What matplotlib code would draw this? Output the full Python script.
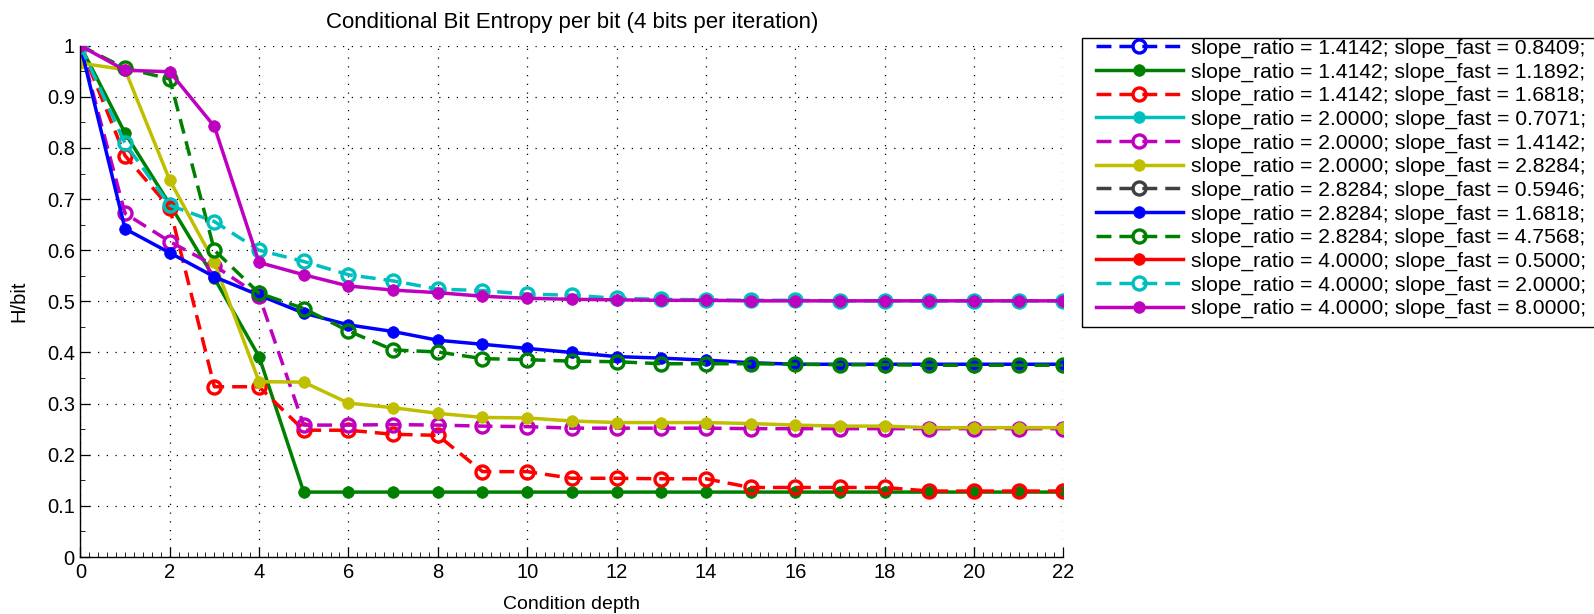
import numpy as np
import matplotlib
matplotlib.use("Agg")
import matplotlib.pyplot as plt
from matplotlib.patches import Rectangle
from matplotlib.ticker import MultipleLocator

# Condition depth (x axis)
depth = list(range(23))

# Conditional bit entropy per bit for each (slope_ratio, slope_fast) setting.
# Settings with no recorded curve are kept as empty (NaN) series.
nan = float("nan")
h_r1414_f0841 = [nan] * 23
h_r1414_f1189 = [1.000, 0.829, 0.690, 0.545, 0.392, 0.127, 0.127, 0.127, 0.127, 0.127,
                 0.127, 0.127, 0.127, 0.127, 0.127, 0.127, 0.127, 0.127, 0.127, 0.127,
                 0.127, 0.127, 0.127]
h_r1414_f1682 = [1.000, 0.785, 0.683, 0.333, 0.333, 0.248, 0.248, 0.240, 0.238, 0.167,
                 0.167, 0.154, 0.154, 0.153, 0.153, 0.136, 0.136, 0.136, 0.136, 0.129,
                 0.129, 0.129, 0.129]
h_r2000_f0707 = [nan] * 23
h_r2000_f1414 = [1.000, 0.672, 0.617, 0.570, 0.511, 0.258, 0.258, 0.259, 0.258, 0.256,
                 0.255, 0.252, 0.252, 0.252, 0.252, 0.251, 0.251, 0.251, 0.251, 0.251,
                 0.251, 0.251, 0.251]
h_r2000_f2828 = [0.966, 0.953, 0.737, 0.576, 0.343, 0.342, 0.301, 0.292, 0.281, 0.273,
                 0.272, 0.266, 0.263, 0.263, 0.263, 0.261, 0.258, 0.256, 0.256, 0.253,
                 0.253, 0.253, 0.253]
h_r2828_f0595 = [nan] * 23
h_r2828_f1682 = [1.000, 0.642, 0.595, 0.548, 0.512, 0.477, 0.454, 0.441, 0.424, 0.416,
                 0.408, 0.400, 0.392, 0.389, 0.385, 0.380, 0.377, 0.377, 0.377, 0.377,
                 0.377, 0.377, 0.377]
h_r2828_f4757 = [1.000, 0.956, 0.935, 0.600, 0.516, 0.486, 0.442, 0.405, 0.401, 0.388,
                 0.386, 0.383, 0.382, 0.378, 0.378, 0.378, 0.377, 0.376, 0.376, 0.375,
                 0.375, 0.375, 0.375]
h_r4000_f0500 = [nan] * 23
h_r4000_f2000 = [1.000, 0.809, 0.688, 0.656, 0.600, 0.578, 0.552, 0.540, 0.524, 0.521,
                 0.514, 0.512, 0.506, 0.504, 0.503, 0.502, 0.502, 0.501, 0.501, 0.501,
                 0.501, 0.501, 0.501]
h_r4000_f8000 = [1.000, 0.952, 0.949, 0.842, 0.576, 0.552, 0.530, 0.522, 0.517, 0.510,
                 0.506, 0.504, 0.503, 0.502, 0.502, 0.501, 0.501, 0.501, 0.501, 0.501,
                 0.501, 0.501, 0.501]

slope_ratio = [1.4142, 1.4142, 1.4142, 2.0000, 2.0000, 2.0000,
               2.8284, 2.8284, 2.8284, 4.0000, 4.0000, 4.0000]
slope_fast = [0.8409, 1.1892, 1.6818, 0.7071, 1.4142, 2.8284,
              0.5946, 1.6818, 4.7568, 0.5000, 2.0000, 8.0000]
series = [h_r1414_f0841, h_r1414_f1189, h_r1414_f1682,
          h_r2000_f0707, h_r2000_f1414, h_r2000_f2828,
          h_r2828_f0595, h_r2828_f1682, h_r2828_f4757,
          h_r4000_f0500, h_r4000_f2000, h_r4000_f8000]

# MATLAB-like colour cycle and alternating dashed-open / solid-filled styles
palette = {
    "b": (0.0, 0.0, 1.0),
    "g": (0.0, 0.5, 0.0),
    "r": (1.0, 0.0, 0.0),
    "c": (0.0, 0.75, 0.75),
    "m": (0.75, 0.0, 0.75),
    "y": (0.75, 0.75, 0.0),
    "k": (0.25, 0.25, 0.25),
}
color_keys = ["b", "g", "r", "c", "m", "y", "k", "b", "g", "r", "c", "m"]

font = ["Liberation Sans", "DejaVu Sans"]

fig = plt.figure(figsize=(15.94, 6.14), dpi=100)
ax = fig.add_axes([0.0504, 0.0928, 0.6167, 0.8328])

for i, (vals, key) in enumerate(zip(series, color_keys)):
    col = palette[key]
    label = f"slope_ratio = {slope_ratio[i]:.4f}; slope_fast = {slope_fast[i]:.4f};"
    if i % 2 == 0:
        ax.plot(depth, vals, color=col, linewidth=2.5, linestyle=(0, (4.3, 2.3)),
                marker="o", markersize=9.4, markerfacecolor="none",
                markeredgewidth=2.4, markeredgecolor=col, label=label)
    else:
        ax.plot(depth, vals, color=col, linewidth=2.5, linestyle="-",
                marker="o", markersize=8.4, markerfacecolor=col,
                markeredgecolor=col, markeredgewidth=0.5, label=label)

ax.set_xlim(0, 22)
ax.set_ylim(0, 1)
ax.xaxis.set_major_locator(MultipleLocator(2))
ax.xaxis.set_minor_locator(MultipleLocator(0.2))
ax.yaxis.set_minor_locator(MultipleLocator(0.05))
ax.set_yticks(np.arange(0, 1.01, 0.1))
ax.set_yticklabels(["0"] + [f"{v:.1f}" for v in np.arange(0.1, 0.95, 0.1)] + ["1"])

ax.grid(True, which="major", color="black", linestyle=(0, (1, 6)), linewidth=0.9)
ax.spines["top"].set_visible(False)
ax.spines["right"].set_visible(False)
for s in ("left", "bottom"):
    ax.spines[s].set_linewidth(1.0)
    ax.spines[s].set_color("black")

ax.tick_params(which="major", direction="in", length=7, width=0.9, labelsize=14.5,
               pad=4, colors="black")
ax.tick_params(which="minor", direction="in", length=3.5, width=0.6)
for lab in ax.get_xticklabels() + ax.get_yticklabels():
    lab.set_family(font)

ax.set_title("Conditional Bit Entropy per bit (4 bits per iteration)",
             family=font, fontsize=16, pad=13)
ax.set_xlabel("Condition depth", family=font, fontsize=14, labelpad=10.5)
ax.set_ylabel("H/bit", family=font, fontsize=14.5, labelpad=13)

# Legend entries, with a frame that is padded wider at the sides than top/bottom
leg = fig.legend(loc="upper left", bbox_to_anchor=(0.6876, 0.937),
                 bbox_transform=fig.transFigure, prop={"family": font, "size": 15.2},
                 frameon=False, borderaxespad=0, borderpad=0,
                 handlelength=4.1, handletextpad=0.42, labelspacing=0.21)

fig.canvas.draw()
bb = leg.get_window_extent()
pad_x, pad_top, pad_bottom = 14, 1, 9
W, H = fig.bbox.width, fig.bbox.height
frame = Rectangle(((bb.x0 - pad_x) / W, (bb.y0 - pad_bottom) / H),
                  (bb.width + 2 * pad_x) / W, (bb.height + pad_top + pad_bottom) / H,
                  transform=fig.transFigure, facecolor="none",
                  edgecolor="black", linewidth=1.0, clip_on=False)
fig.add_artist(frame)

fig.savefig("out.png", dpi=100)
